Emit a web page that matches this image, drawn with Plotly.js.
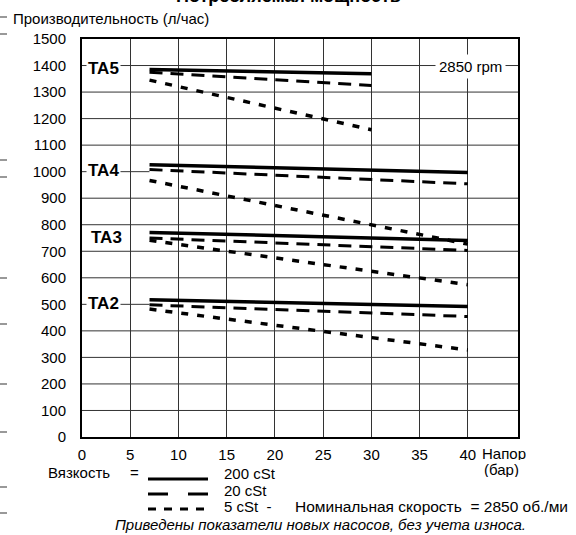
<!DOCTYPE html>
<html>
<head>
<meta charset="utf-8">
<script src="https://cdn.plot.ly/plotly-3.0.1.min.js"></script>
<style>html,body{margin:0;padding:0;background:#fff;}#chart{width:576px;height:535px;}</style>
</head>
<body>
<div id="chart"></div>
<script>
// ---- data ----
const pressure = [7, 40];          // бар, TA2..TA4
const pressureTA5 = [7, 30];       // бар, TA5
const ta5_200 = [1385, 1369];
const ta5_20  = [1375, 1325];
const ta5_5   = [1345, 1158];
const ta4_200 = [1026, 997];
const ta4_20  = [1008, 954];
const ta4_5   = [967, 727];
const ta3_200 = [771, 741];
const ta3_20  = [750, 703];
const ta3_5   = [741, 574];
const ta2_200 = [517, 492];
const ta2_20  = [498, 454];
const ta2_5   = [482, 328];
const xTicks = [0, 5, 10, 15, 20, 25, 30, 35, 40];
const yTicks = [0,100,200,300,400,500,600,700,800,900,1000,1100,1200,1300,1400,1500];
const modelLabels = ['TA5', 'TA4', 'TA3', 'TA2'];
const legendLabels = ['200 cSt', '20 cSt', '5 cSt'];

// ---- geometry helpers ----
const W = 576, H = 535;
const L = 82, R = 518, T = 39, B = 437;
const px = x => (x - L) / (R - L);
const py = y => (B - y) / (B - T);

const styles = {
  s200: {color: '#000', width: 3.5, dash: 'solid'},
  s20:  {color: '#000', width: 3, dash: '13px,8px'},
  s5:   {color: '#000', width: 3.5, dash: '7px,9px'}
};
function tr(x, y, st) {
  return {x: x, y: y, type: 'scatter', mode: 'lines', line: st, showlegend: false, hoverinfo: 'skip'};
}
const traces = [
  tr(pressureTA5, ta5_200, styles.s200), tr(pressureTA5, ta5_20, styles.s20), tr(pressureTA5, ta5_5, styles.s5),
  tr(pressure, ta4_200, styles.s200), tr(pressure, ta4_20, styles.s20), tr(pressure, ta4_5, styles.s5),
  tr(pressure, ta3_200, styles.s200), tr(pressure, ta3_20, styles.s20), tr(pressure, ta3_5, styles.s5),
  tr(pressure, ta2_200, styles.s200), tr(pressure, ta2_20, styles.s20), tr(pressure, ta2_5, styles.s5)
];

const shapes = [];
// horizontal grid
yTicks.forEach(v => {
  if (v === 0 || v === 1500) return;
  if (v === 500 || v === 1000) {
    shapes.push({type:'line', xref:'x', yref:'y', x0:0, x1:7, y0:v, y1:v, layer:'below', line:{color:'#333', width:1}});
  } else {
    shapes.push({type:'line', xref:'paper', yref:'y', x0:0, x1:1, y0:v, y1:v, layer:'below', line:{color:'#333', width:1}});
  }
});
// stray marks at left edge of the scan
[17, 34, 160, 177, 278, 324, 384, 432, 487, 513].forEach(y => {
  shapes.push({type:'line', xref:'paper', yref:'paper', x0:px(0), x1:px(7), y0:py(y), y1:py(y), line:{color:'#555', width:1.2}});
});
// legend line samples
shapes.push({type:'line', xref:'paper', yref:'paper', x0:px(148), x1:px(208), y0:py(479), y1:py(479), line:{color:'#000', width:3}});
shapes.push({type:'line', xref:'paper', yref:'paper', x0:px(148), x1:px(208), y0:py(494), y1:py(494), line:{color:'#000', width:3, dash:'20px,20px'}});
shapes.push({type:'line', xref:'paper', yref:'paper', x0:px(148), x1:px(208), y0:py(509), y1:py(509), line:{color:'#000', width:3, dash:'8px,8px'}});

const F = 'Liberation Sans, Arial, Helvetica, sans-serif';
function ann(text, x, y, opts) {
  return Object.assign({text: text, xref:'paper', yref:'paper', x: px(x), y: py(y), showarrow:false,
    xanchor:'left', yanchor:'middle', font:{family:F, size:15, color:'#000'}}, opts || {});
}
const bold = {family:F, size:17, color:'#000'};
const annotations = [
  ann('<b>Потребляемая мощность</b>', 288, -4, {xanchor:'center', font:{family:F, size:18, color:'#000'}}),
  ann('Производительность (л/час)', 11, 18, {font:{family:F, size:15, color:'#000'}}),
  ann('2850 rpm', 470, 66, {xanchor:'center', bgcolor:'#fff', borderpad:3}),
  ann('<b>' + modelLabels[0] + '</b>', 86, 68, {bgcolor:'#fff', borderpad:1, font:bold}),
  ann('<b>' + modelLabels[1] + '</b>', 86, 170, {bgcolor:'#fff', borderpad:1, font:bold}),
  ann('<b>' + modelLabels[2] + '</b>', 89, 237, {bgcolor:'#fff', borderpad:1, font:bold}),
  ann('<b>' + modelLabels[3] + '</b>', 86, 303, {bgcolor:'#fff', borderpad:1, font:bold}),
  ann('Напор', 481, 453, {height: 14, borderpad: 0}),
  ann('(бар)', 483, 469, {height: 16, borderpad: 0}),
  ann('Вязкость', 46, 472),
  ann('=', 128, 472),
  ann(legendLabels[0], 222, 474),
  ann(legendLabels[1], 222, 490),
  ann(legendLabels[2] + '  -', 222, 506),
  ann('Номинальная скорость  = 2850 об./ми', 293, 506, {font:{family:F, size:15.5, color:'#000'}}),
  ann('<i>Приведены показатели новых насосов, без учета износа.</i>', 320, 524, {xanchor:'center'})
];

const layout = {
  width: W, height: H,
  margin: {l: L, r: W - R, t: T, b: H - B, pad: 0},
  paper_bgcolor: '#fff', plot_bgcolor: '#fff',
  showlegend: false,
  xaxis: {range: [0, 45.2], tickvals: xTicks, showgrid: true, gridcolor: '#333', gridwidth: 1,
    zeroline: false, showline: true, mirror: true, linecolor: '#000', linewidth: 2,
    ticks: '', ticklabelstandoff: 3, tickfont: {family: F, size: 15, color: '#000'}},
  yaxis: {range: [0, 1500], tickvals: yTicks, showgrid: false, zeroline: false,
    showline: true, mirror: true, linecolor: '#000', linewidth: 2,
    ticks: '', ticklabelstandoff: 11, tickfont: {family: F, size: 15, color: '#000'}},
  shapes: shapes,
  annotations: annotations
};
Plotly.newPlot('chart', traces, layout, {staticPlot: true, displayModeBar: false});
</script>
</body>
</html>
